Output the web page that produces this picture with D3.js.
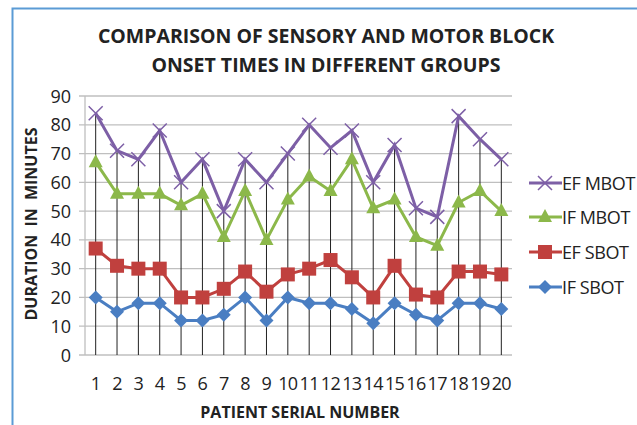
<!DOCTYPE html>
<html>
<head>
<meta charset="utf-8">
<script src="https://cdn.jsdelivr.net/npm/d3@7"></script>
<style>
  body { margin: 0; background: #fff; }
  svg { display: block; font-family: "Open Sans", "Noto Sans", sans-serif; }
</style>
</head>
<body>
<svg id="chart" width="637" height="425"></svg>
<script>
// Data
const patients = d3.range(1, 21).map(String);
const efMbot = [84, 71, 68, 78, 60, 68, 50, 68, 60, 70, 80, 72, 78, 60, 73, 51, 48, 83, 75, 68];
const ifMbot = [67, 56, 56, 56, 52, 56, 41, 57, 40, 54, 62, 57, 68, 51, 54, 41, 38, 53, 57, 50];
const efSbot = [37, 31, 30, 30, 20, 20, 23, 29, 22, 28, 30, 33, 27, 20, 31, 21, 20, 29, 29, 28];
const ifSbot = [20, 15, 18, 18, 12, 12, 14, 20, 12, 20, 18, 18, 16, 11, 18, 14, 12, 18, 18, 16];
const yTicks = [0, 10, 20, 30, 40, 50, 60, 70, 80, 90];

const series = [
    { name: "EF MBOT", values: efMbot, color: "#7d5fa6", marker: "x" },
    { name: "IF MBOT", values: ifMbot, color: "#8cb84a", marker: "triangle" },
    { name: "EF SBOT", values: efSbot, color: "#c0403e", marker: "square" },
    { name: "IF SBOT", values: ifSbot, color: "#4a7ec2", marker: "diamond" }
];

const svg = d3.select("#chart");

// outer frame (blue border on left/top)
svg.append("rect")
    .attr("x", 12.5).attr("y", 8.5)
    .attr("width", 640).attr("height", 430)
    .attr("fill", "none")
    .attr("stroke", "#5b9bd5")
    .attr("stroke-width", 2);

const plotLeft = 85, plotRight = 512, plotTop = 96, plotBottom = 355;

const x = d3.scaleBand().domain(patients).range([plotLeft, plotRight]);
const y = d3.scaleLinear().domain([0, 90]).range([plotBottom, plotTop]);
const cx = d => x(d) + x.bandwidth() / 2;

// gridlines
svg.append("g")
    .selectAll("line")
    .data(yTicks)
    .enter().append("line")
    .attr("x1", plotLeft - 6).attr("x2", plotRight)
    .attr("y1", d => y(d)).attr("y2", d => y(d))
    .attr("stroke", "#bfbfbf")
    .attr("stroke-width", 1.3);

// y axis line
svg.append("line")
    .attr("x1", plotLeft).attr("x2", plotLeft)
    .attr("y1", plotTop).attr("y2", plotBottom)
    .attr("stroke", "#bfbfbf")
    .attr("stroke-width", 1.3);

// y tick labels
svg.append("g")
    .selectAll("text")
    .data(yTicks)
    .enter().append("text")
    .attr("x", 71)
    .attr("y", d => y(d) + 6.5)
    .attr("text-anchor", "end")
    .attr("font-size", 18)
    .attr("fill", "#222")
    .text(d => d);

// x tick labels
svg.append("g")
    .selectAll("text")
    .data(patients)
    .enter().append("text")
    .attr("x", d => cx(d))
    .attr("y", 390)
    .attr("text-anchor", "middle")
    .attr("font-size", 18)
    .attr("letter-spacing", -0.6)
    .attr("fill", "#222")
    .text(d => d);

// drop lines from highest point to the axis
svg.append("g")
    .selectAll("line")
    .data(patients)
    .enter().append("line")
    .attr("x1", d => cx(d)).attr("x2", d => cx(d))
    .attr("y1", (d, i) => y(d3.max(series, s => s.values[i])))
    .attr("y2", plotBottom)
    .attr("stroke", "#222")
    .attr("stroke-width", 1);

function drawMarker(g, type, color) {
    if (type === "x") {
        g.append("path").attr("d", "M-7,-7L7,7M-7,7L7,-7")
            .attr("stroke", color).attr("stroke-width", 1.5).attr("fill", "none");
    } else if (type === "triangle") {
        g.append("path").attr("d", "M0,-8L7,5L-7,5Z").attr("fill", color);
    } else if (type === "square") {
        g.append("rect").attr("x", -7).attr("y", -7).attr("width", 14).attr("height", 14).attr("fill", color);
    } else {
        g.append("path").attr("d", "M0,-7L7,0L0,7L-7,0Z").attr("fill", color);
    }
}

const line = d3.line().x((d, i) => cx(patients[i])).y(d => y(d));

series.slice().reverse().forEach(function(s) {
    svg.append("path")
        .attr("d", line(s.values))
        .attr("fill", "none")
        .attr("stroke", s.color)
        .attr("stroke-width", 3);

    s.values.forEach(function(v, i) {
        const g = svg.append("g").attr("transform", `translate(${cx(patients[i])},${y(v)})`);
        drawMarker(g, s.marker, s.color);
    });
});

// legend
const legendY = [183, 217, 252, 287];
series.forEach(function(s, i) {
    const g = svg.append("g").attr("transform", `translate(0,${legendY[i]})`);
    g.append("line").attr("x1", 529).attr("x2", 562).attr("y1", 0).attr("y2", 0)
        .attr("stroke", s.color).attr("stroke-width", 3);
    const m = g.append("g").attr("transform", "translate(545,0)");
    drawMarker(m, s.marker, s.color);
    g.append("text")
        .attr("x", 562).attr("y", 6.5)
        .attr("font-size", 18)
        .attr("letter-spacing", -0.4)
        .attr("fill", "#222")
        .text(s.name);
});

// titles
svg.append("text")
    .attr("x", 326).attr("y", 43)
    .attr("text-anchor", "middle")
    .attr("font-size", 19.5).attr("font-weight", "bold")
    .attr("fill", "#222")
    .text("COMPARISON OF SENSORY AND MOTOR BLOCK");
svg.append("text")
    .attr("x", 326).attr("y", 72)
    .attr("text-anchor", "middle")
    .attr("font-size", 19.5).attr("font-weight", "bold")
    .attr("fill", "#222")
    .text("ONSET TIMES IN DIFFERENT GROUPS");

svg.append("text")
    .attr("x", 300).attr("y", 418)
    .attr("text-anchor", "middle")
    .attr("font-size", 16).attr("font-weight", "bold")
    .attr("fill", "#222")
    .text("PATIENT SERIAL NUMBER");

svg.append("text")
    .attr("transform", "translate(37,224) rotate(-90)")
    .attr("text-anchor", "middle")
    .attr("font-size", 16).attr("font-weight", "bold")
    .attr("fill", "#222")
    .attr("word-spacing", 4)
    .text("DURATION IN MINUTES");
</script>
</body>
</html>
